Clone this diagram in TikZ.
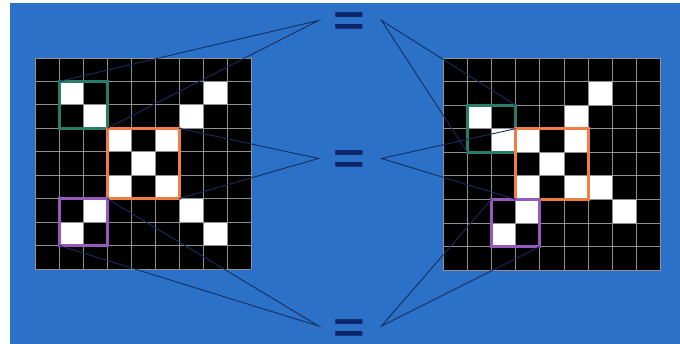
\documentclass[tikz,border=0pt]{standalone}
\usepackage{graphicx}
\usepackage{fontspec}
\newfontfamily\myEqFont{Liberation Sans}
\usetikzlibrary{fit}
\definecolor{bgblue}{RGB}{42,113,199}
\definecolor{eqc}{RGB}{14,36,104}
\definecolor{connc}{RGB}{22,45,95}
\definecolor{gridc}{RGB}{145,145,145}
\definecolor{tealbox}{RGB}{40,125,105}
\definecolor{orangebox}{RGB}{240,125,70}
\definecolor{purplebox}{RGB}{150,90,190}
\tikzset{
  cellbox/.style={inner sep=0pt, outer sep=0pt, line width=3pt, draw=#1},
  conn/.style={draw=connc, line width=0.9pt},
  eqsign/.style={text=eqc, font=\myEqFont\bfseries\fontsize{44}{44}\selectfont, inner sep=0pt, anchor=base},
  gridl/.style={draw=gridc, line width=0.8pt}
}
\begin{document}
\begin{tikzpicture}[x=1pt,y=-1pt]
\useasboundingbox (0,0) rectangle (680,344);
\fill[bgblue] (10,3) rectangle (680,344);
% left grid
\begin{scope}[shift={(35pt,-58pt)}, x=24pt, y=-23.44pt]
  \fill[black] (0,0) rectangle (9,9);
  \foreach \cx/\ry in {1/1,7/1,2/2,6/2,3/3,5/3,4/4,3/5,5/5,2/6,6/6,1/7,7/7}
    \fill[white] (\cx,\ry) rectangle ++(1,1);
  \foreach \i in {0,...,9} {
    \draw[gridl] (\i,0) -- (\i,9);
    \draw[gridl] (0,\i) -- (9,\i);
  }
  \node[cellbox=tealbox, fit={(1,1) (3,3)}] (gL) {};
  \node[cellbox=orangebox, fit={(3,3) (6,6)}] (oL) {};
  \node[cellbox=purplebox, fit={(1,6) (3,8)}] (pL) {};
\end{scope}
% right grid
\begin{scope}[shift={(443pt,-58pt)}, x=24.2pt, y=-23.56pt]
  \fill[black] (0,0) rectangle (9,9);
  \foreach \cx/\ry in {6/1,1/2,5/2,2/3,3/3,5/3,4/4,3/5,5/5,6/5,3/6,7/6,2/7}
    \fill[white] (\cx,\ry) rectangle ++(1,1);
  \foreach \i in {0,...,9} {
    \draw[gridl] (\i,0) -- (\i,9);
    \draw[gridl] (0,\i) -- (9,\i);
  }
  \node[cellbox=tealbox, fit={(1,2) (3,4)}] (gR) {};
  \node[cellbox=orangebox, fit={(3,3) (6,6)}] (oR) {};
  \node[cellbox=purplebox, fit={(2,6) (4,8)}] (pR) {};
\end{scope}
% equals signs
\node[eqsign] (eqT) at (349.5,35.8) {\scalebox{1.23}[1]{=}};
\node[eqsign] (eqM) at (349.5,173.8) {\scalebox{1.23}[1]{=}};
\node[eqsign] (eqB) at (349.5,342.3) {\scalebox{1.23}[1]{=}};
% tips
\coordinate (tTL) at (318.5,20.5);
\coordinate (tTR) at (381.5,20.5);
\coordinate (tML) at (318.5,158.5);
\coordinate (tMR) at (381.5,158.5);
\coordinate (tBL) at (318.5,326);
\coordinate (tBR) at (381.5,326);
% connectors
\draw[conn] (gL.north west) -- (tTL) -- (gL.south east);
\draw[conn] (oL.north east) -- (tML) -- (oL.south east);
\draw[conn] (pL.south west) -- (tBL) -- (pL.north east);
\draw[conn] (gR.north east) -- (tTR) -- (gR.south west);
\draw[conn] (oR.north west) -- (tMR) -- (oR.south west);
\draw[conn] (pR.north west) -- (tBR) -- (pR.south east);
\end{tikzpicture}
\end{document}
